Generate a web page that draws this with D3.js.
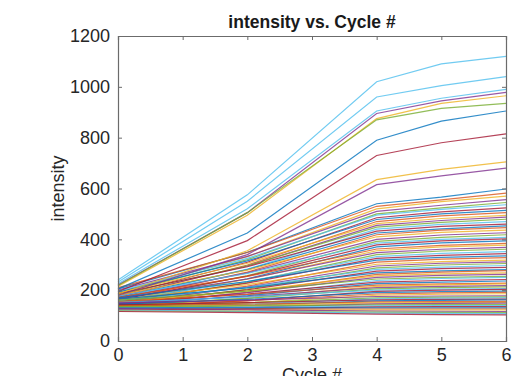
<!DOCTYPE html>
<html>
<head>
<meta charset="utf-8">
<script src="https://cdn.jsdelivr.net/npm/d3@7"></script>
<style>
  body { margin: 0; background: #fff; }
  svg { display: block; font-family: "Liberation Sans", Arial, Helvetica, sans-serif; }
</style>
</head>
<body>
<div id="chart"></div>
<script>
// Cycle numbers where intensity was sampled
const cycles = [0, 2, 4, 5, 6];

// Brightest spots (top of the plot)
const topSeries = [
    [240, 575, 1020, 1090, 1120],
    [232, 550, 960, 1005, 1040],
    [225, 520, 905, 955, 990],
    [220, 505, 895, 945, 978],
    [215, 495, 875, 935, 965],
    [218, 505, 870, 915, 935],
    [205, 425, 790, 865, 905],
    [195, 395, 730, 780, 815],
    [185, 355, 635, 675, 705],
    [180, 340, 615, 650, 680]
];

// The dense band of the remaining spots
const bandSeries = [
    [205, 349, 540, 566, 598], [210, 348, 530, 555, 582], [190, 332, 520, 548, 570],
    [200, 333, 510, 534, 556], [185, 320, 500, 524, 545], [196, 325, 495, 518, 536],
    [178, 310, 485, 508, 524], [192, 315, 478, 500, 514], [170, 299, 470, 492, 505],
    [188, 306, 462, 482, 494], [175, 295, 455, 474, 487], [182, 296, 448, 467, 479],
    [165, 283, 440, 459, 470], [186, 292, 432, 451, 460], [172, 281, 425, 441, 453],
    [160, 271, 418, 436, 446], [180, 279, 410, 427, 436], [168, 268, 400, 417, 426],
    [155, 257, 392, 408, 418], [176, 266, 385, 400, 408], [162, 255, 378, 394, 402],
    [150, 245, 370, 386, 394], [172, 254, 362, 376, 384], [158, 243, 355, 370, 377],
    [166, 244, 348, 361, 368], [148, 231, 340, 354, 361], [160, 234, 332, 345, 352],
    [154, 228, 325, 337, 344], [170, 234, 318, 329, 335], [145, 216, 310, 322, 328],
    [162, 222, 302, 312, 318], [150, 212, 295, 306, 311], [140, 204, 288, 299, 305],
    [158, 211, 282, 291, 297], [146, 201, 275, 285, 290], [165, 209, 268, 276, 281],
    [138, 191, 262, 271, 277], [152, 197, 256, 264, 268], [144, 190, 250, 258, 262],
    [160, 196, 244, 250, 254], [136, 180, 238, 246, 250], [150, 185, 232, 238, 242],
    [142, 178, 226, 232, 236], [155, 183, 220, 225, 228], [134, 169, 215, 221, 225],
    [148, 175, 210, 215, 218], [140, 168, 205, 210, 213], [152, 173, 200, 204, 206],
    [132, 159, 195, 200, 203], [145, 164, 190, 194, 196], [138, 158, 185, 189, 191],
    [128, 150, 180, 184, 186], [150, 161, 175, 177, 178], [136, 151, 170, 173, 174],
    [130, 145, 166, 169, 170], [142, 151, 162, 164, 165], [126, 140, 158, 160, 162],
    [138, 145, 154, 155, 156], [132, 140, 150, 151, 152], [124, 133, 146, 148, 149],
    [135, 138, 142, 143, 143], [128, 132, 138, 139, 139], [122, 127, 134, 135, 135],
    [130, 130, 130, 130, 130], [125, 125, 126, 126, 126], [120, 121, 122, 122, 122],
    [127, 123, 118, 117, 116], [118, 116, 114, 113, 112], [122, 117, 110, 109, 108],
    [116, 112, 106, 104, 103]
];

const xTicks = [0, 1, 2, 3, 4, 5, 6];
const yTicks = [0, 200, 400, 600, 800, 1000, 1200];

// MATLAB default line colours
const palette = ["#0072BD", "#D95319", "#EDB120", "#7E2F8E", "#77AC30", "#4DBEEE", "#A2142F"];
const topColorIdx = [5, 5, 5, 3, 2, 4, 0, 6, 2, 3];

const width = 513, height = 376;
const margin = { top: 36, right: 7, bottom: 35, left: 118 };

const svg = d3.select("#chart").append("svg").attr("width", width).attr("height", height);

const x = d3.scaleLinear().domain([0, 6]).range([margin.left, width - margin.right]);
const y = d3.scaleLinear().domain([0, 1200]).range([height - margin.bottom, margin.top]);

const line = d3.line()
    .x((d, i) => x(cycles[i]))
    .y(d => y(d));

// Lines
const g = svg.append("g").attr("fill", "none").attr("stroke-width", 1.2).attr("stroke-opacity", 0.8);

g.selectAll(".band")
    .data(bandSeries)
    .enter()
    .append("path")
    .attr("class", "band")
    .attr("d", line)
    .attr("stroke", (d, i) => palette[i % palette.length]);

g.selectAll(".top")
    .data(topSeries)
    .enter()
    .append("path")
    .attr("class", "top")
    .attr("d", line)
    .attr("stroke", (d, i) => palette[topColorIdx[i]]);

// Axes (ticks point inward, box on)
const axisColor = "#6b6b6b";
const plotBottom = height - margin.bottom;
const plotRight = width - margin.right;

const xAxis = svg.append("g")
    .attr("transform", `translate(0,${plotBottom})`)
    .call(d3.axisBottom(x).tickValues(xTicks).tickSize(-4).tickPadding(7).tickFormat(d3.format("d")));

const yAxis = svg.append("g")
    .attr("transform", `translate(${margin.left},0)`)
    .call(d3.axisLeft(y).tickValues(yTicks).tickSize(-4).tickPadding(8).tickFormat(d3.format("d")));

svg.append("g")
    .attr("transform", `translate(0,${margin.top})`)
    .call(d3.axisTop(x).tickValues(xTicks).tickSize(-4).tickFormat(""));

svg.append("g")
    .attr("transform", `translate(${plotRight},0)`)
    .call(d3.axisRight(y).tickValues(yTicks).tickSize(-4).tickFormat(""));

svg.selectAll(".domain").attr("stroke", axisColor).attr("stroke-width", 1.2);
svg.selectAll(".tick line").attr("stroke", axisColor);
svg.selectAll(".tick text").attr("fill", "#262626").style("font-size", "18px");

// Title and labels
svg.append("text")
    .attr("x", (margin.left + plotRight) / 2)
    .attr("y", 28)
    .attr("text-anchor", "middle")
    .attr("font-weight", "bold")
    .attr("font-size", "17.5px")
    .attr("fill", "#1a1a1a")
    .text("intensity vs. Cycle #");

svg.append("text")
    .attr("transform", `translate(64,${(margin.top + plotBottom) / 2}) rotate(-90)`)
    .attr("text-anchor", "middle")
    .attr("font-size", "18px")
    .attr("fill", "#262626")
    .text("intensity");

svg.append("text")
    .attr("x", (margin.left + plotRight) / 2)
    .attr("y", 381)
    .attr("text-anchor", "middle")
    .attr("font-size", "18px")
    .attr("fill", "#262626")
    .text("Cycle #");
</script>
</body>
</html>
